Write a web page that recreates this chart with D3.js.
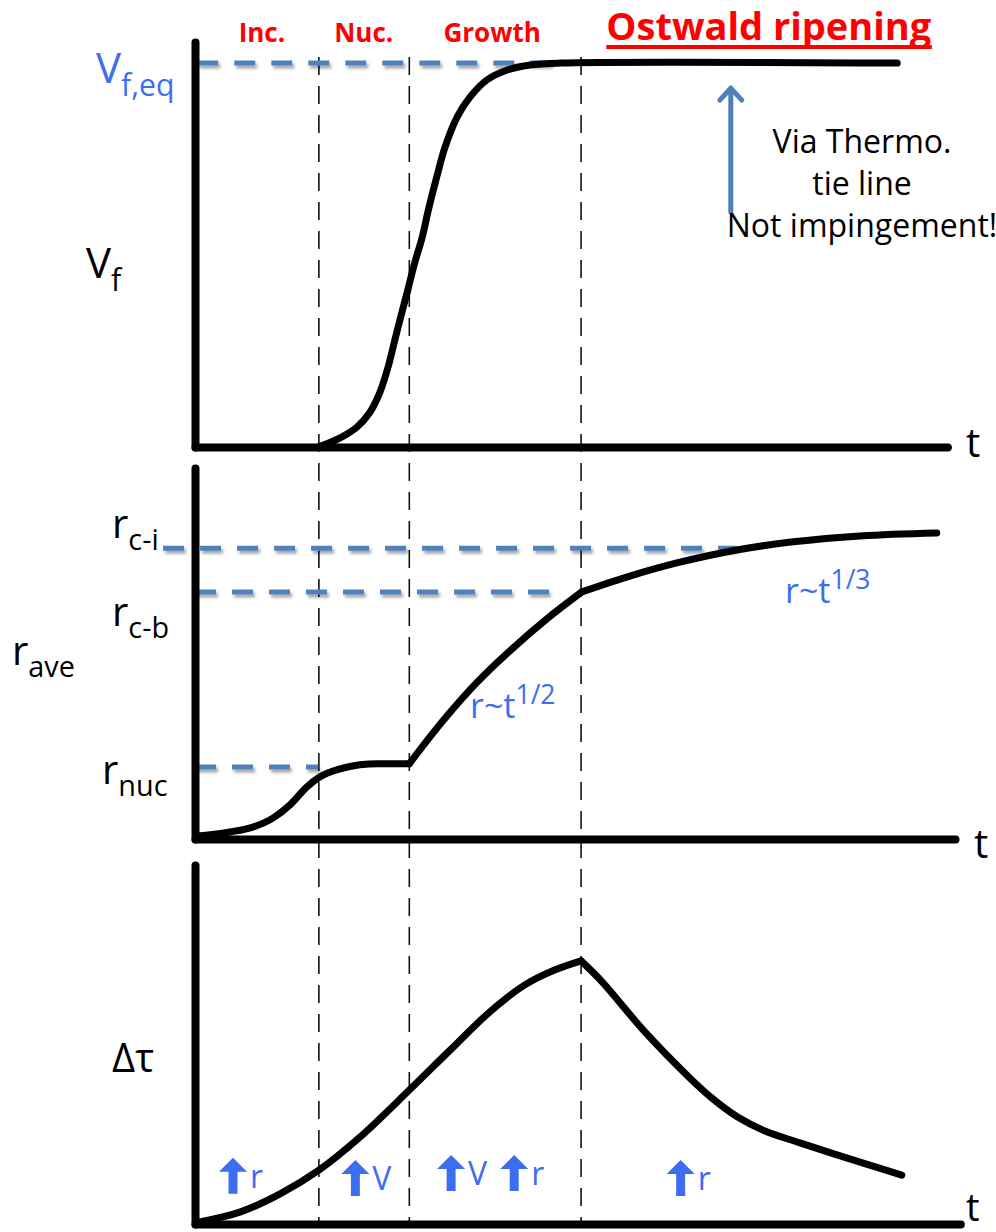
<!DOCTYPE html>
<html>
<head>
<meta charset="utf-8">
<script src="https://cdn.jsdelivr.net/npm/d3@7"></script>
<style>
  body { margin: 0; background: #fff; }
  svg { display: block; }
  text { font-family: "Open Sans", "Noto Sans", sans-serif; }
</style>
</head>
<body>
<svg id="chart" width="996" height="1232"></svg>
<script>
// ---- data (t in arbitrary time units) ----
var stageT = [16.3, 28.2, 50.8];
var stageNames = ["Inc.", "Nuc.", "Growth"];
var stageNameT = [8.8, 22.2, 39.1];
var ostwaldT = 75.5;

// volume fraction Vf vs t
var vfT = [16.2, 19.1, 21.3, 23.0, 24.3, 25.4, 26.3, 27.2, 28.0, 28.9, 29.9, 30.7, 31.8, 32.9, 34.5, 36.2, 38.4, 41.1, 44.1, 48.0, 92.4];
var vfV = [0, 0.024, 0.052, 0.090, 0.141, 0.208, 0.279, 0.349, 0.409, 0.479, 0.547, 0.617, 0.703, 0.781, 0.860, 0.912, 0.956, 0.982, 0.995, 1.0, 1.0];
var vfEq = 1.0;

// average radius vs t (three pieces: nucleation, growth, coarsening)
var rT1 = [0.4, 4.6, 7.6, 10.3, 12.5, 14.7, 16.4, 19.1, 21.7, 24.0, 28.2];
var rV1 = [0.08, 0.19, 0.32, 0.57, 0.92, 1.40, 1.67, 1.89, 2.00, 2.03, 2.03];
var rT2 = [28.2, 32.6, 37.1, 41.8, 46.4, 50.9];
var rV2 = [2.03, 3.18, 4.22, 5.14, 5.95, 6.66];
var rT3 = [50.9, 56.8, 63.4, 71.3, 78.7, 87.5, 97.6];
var rV3 = [6.66, 7.06, 7.44, 7.79, 8.01, 8.17, 8.25];
var rRefNames = ["c-i", "c-b", "nuc"];
var rRefV = [7.84, 6.66, 1.94];
var rRefT0 = [-4.2, 0, 0];
var rRefT1 = [71.3, 47.0, 16.2];

// strengthening increment vs t (rise, then fall)
var dT1 = [0.66, 5.9, 11.2, 16.3, 21.7, 28.2, 33.6, 38.8, 43.4, 47.4, 50.8];
var dV1 = [0.06, 0.33, 0.84, 1.50, 2.42, 3.73, 4.85, 5.91, 6.66, 7.08, 7.33];
var dT2 = [50.8, 53.6, 59.2, 65.0, 68.0, 71.4, 75.0, 79.6, 87.4, 93.0];
var dV2 = [7.33, 6.74, 5.35, 4.09, 3.51, 2.98, 2.59, 2.26, 1.73, 1.36];

// "up arrow" annotations in the bottom panel
var upT = [5.0, 21.1, 33.7, 42.0, 63.9];
var upLabel = ["r", "V", "V", "r", "r"];
var upBase = [0.84, 0.78, 0.92, 0.92, 0.78];

var noteLines = ["Via Thermo.", "tie line", "Not impingement!"];

// ---- scales ----
var svg = d3.select("#chart");
var x = d3.scaleLinear().domain([0, 100]).range([195, 955]);
var y1 = d3.scaleLinear().domain([0, 1.055]).range([447, 42]);
var y2 = d3.scaleLinear().domain([0, 10]).range([839, 468]);
var y3 = d3.scaleLinear().domain([0, 10]).range([1224, 865]);
var axisEnd = [99, 100, 100.7];

var blue = "#4F81BD";
var textBlue = "#3d6ef0";

var defs = svg.append("defs");
var f = defs.append("filter").attr("id", "shadow").attr("filterUnits", "userSpaceOnUse")
  .attr("x", 0).attr("y", 0).attr("width", 996).attr("height", 1232);
f.append("feDropShadow").attr("dx", 2).attr("dy", 3).attr("stdDeviation", 1.6)
  .attr("flood-color", "#000").attr("flood-opacity", 0.35);

function zip(a, b) { return a.map(function(d, i) { return [d, b[i]]; }); }

function drawAxes(ys, end) {
  var xs = x.copy().domain([0, end]).range([x(0), x(end)]);
  var gx = svg.append("g")
    .attr("transform", "translate(0," + ys.range()[0] + ")")
    .call(d3.axisBottom(xs).tickValues([]).tickSizeOuter(0));
  var gy = svg.append("g")
    .attr("transform", "translate(" + x(0) + ",0)")
    .call(d3.axisLeft(ys).tickValues([]).tickSizeOuter(0));
  [gx, gy].forEach(function(g) {
    g.select(".domain").attr("stroke", "#000").attr("stroke-width", 8)
      .attr("stroke-linecap", "round");
  });
}

function curve(ys, ts, vs, kind) {
  var line = d3.line().curve(kind || d3.curveMonotoneX)
    .x(function(d) { return x(d[0]); })
    .y(function(d) { return ys(d[1]); });
  svg.append("path").datum(zip(ts, vs))
    .attr("d", line)
    .attr("fill", "none").attr("stroke", "#000").attr("stroke-width", 7)
    .attr("stroke-linecap", "round").attr("stroke-linejoin", "round");
}

function refLine(ys, v, t0, t1) {
  svg.append("line")
    .attr("x1", x(t0)).attr("x2", x(t1))
    .attr("y1", ys(v)).attr("y2", ys(v))
    .attr("stroke", blue).attr("stroke-width", 5)
    .attr("stroke-dasharray", "21,16")
    .attr("filter", "url(#shadow)");
}

function subLabel(px, py, main, sub, size, color) {
  var t = svg.append("text").attr("x", px).attr("y", py)
    .attr("fill", color || "#000").attr("font-size", size);
  t.append("tspan").text(main);
  t.append("tspan").attr("dy", size * 0.3).attr("font-size", size * 0.72).text(sub);
}

function supLabel(px, py, main, sup, size) {
  var t = svg.append("text").attr("x", px).attr("y", py)
    .attr("fill", textBlue).attr("font-size", size);
  t.append("tspan").text(main);
  t.append("tspan").attr("dy", -size * 0.4).attr("font-size", size * 0.78).text(sup);
}

var smooth = d3.curveCatmullRom.alpha(0.5);

// ---- stage dividers ----
svg.append("g").selectAll("line").data(stageT).enter().append("line")
  .attr("x1", function(d) { return x(d); }).attr("x2", function(d) { return x(d); })
  .attr("y1", 57).attr("y2", 1222)
  .attr("stroke", "#111").attr("stroke-width", 1.6)
  .attr("stroke-dasharray", "18,11");

// ---- panel 1: Vf ----
refLine(y1, vfEq, 0.3, 47.4);
drawAxes(y1, axisEnd[0]);
curve(y1, vfT, vfV, smooth);

svg.append("g").selectAll("text").data(stageNames).enter().append("text")
  .attr("x", function(d, i) { return x(stageNameT[i]); })
  .attr("y", 42).attr("text-anchor", "middle")
  .attr("fill", "#ff0000").attr("font-weight", 700).attr("font-size", 26)
  .text(function(d) { return d; });

var ost = svg.append("text").attr("x", x(ostwaldT)).attr("y", 40)
  .attr("text-anchor", "middle").attr("fill", "#ff0000")
  .attr("font-weight", 700).attr("font-size", 38).text("Ostwald ripening");
var ob = ost.node().getBBox();
svg.append("line").attr("x1", ob.x).attr("x2", ob.x + ob.width)
  .attr("y1", 47).attr("y2", 47).attr("stroke", "#ff0000").attr("stroke-width", 4);

// blue arrow pointing to the plateau
var arrowT = 70.5;
svg.append("path")
  .attr("d", "M" + x(arrowT) + "," + y1(0.612) + "V" + y1(0.935) +
    "M" + (x(arrowT) - 11) + "," + (y1(0.935) + 12) + "L" + x(arrowT) + "," + y1(0.935) +
    "L" + (x(arrowT) + 11) + "," + (y1(0.935) + 12))
  .attr("fill", "none").attr("stroke", blue).attr("stroke-width", 5)
  .attr("stroke-linecap", "round").attr("stroke-linejoin", "round");

svg.append("g").selectAll("text").data(noteLines).enter().append("text")
  .attr("x", 862).attr("y", function(d, i) { return 153 + i * 42; })
  .attr("text-anchor", "middle").attr("font-size", 32).attr("fill", "#000")
  .text(function(d) { return d; });

subLabel(96, 83, "V", "f,eq", 42, textBlue);
subLabel(86, 278, "V", "f", 42);
svg.append("text").attr("x", 966).attr("y", 457).attr("font-size", 40).text("t");

// ---- panel 2: r_ave ----
rRefV.forEach(function(v, i) { refLine(y2, v, rRefT0[i], rRefT1[i]); });
drawAxes(y2, axisEnd[1]);
curve(y2, rT1, rV1);
curve(y2, rT2, rV2, smooth);
curve(y2, rT3, rV3, smooth);

subLabel(112, 538, "r", "c-i", 40);
subLabel(112, 626, "r", "c-b", 40);
subLabel(102, 784, "r", "nuc", 40);
subLabel(12, 665, "r", "ave", 40);
supLabel(470, 718, "r~t", "1/2", 34);
supLabel(785, 603, "r~t", "1/3", 34);
svg.append("text").attr("x", 974).attr("y", 858).attr("font-size", 40).text("t");

// ---- panel 3: delta tau ----
drawAxes(y3, axisEnd[2]);
curve(y3, dT1, dV1, smooth);
curve(y3, dT2, dV2, smooth);

svg.append("text").attr("x", 112).attr("y", 1072).attr("font-size", 40).text("Δτ");
svg.append("text").attr("x", 966).attr("y", 1221).attr("font-size", 38).text("t");

var ups = svg.append("g").selectAll("g").data(upT).enter().append("g")
  .attr("transform", function(d, i) { return "translate(" + x(d) + "," + y3(upBase[i]) + ")"; });
ups.append("path")
  .attr("d", "M-4.5,0V-22H-14L0,-36L14,-22H4.5V0Z")
  .attr("fill", textBlue);
ups.append("text").attr("x", 17).attr("y", -6)
  .attr("font-size", 32).attr("fill", textBlue)
  .text(function(d, i) { return upLabel[i]; });
</script>
</body>
</html>
